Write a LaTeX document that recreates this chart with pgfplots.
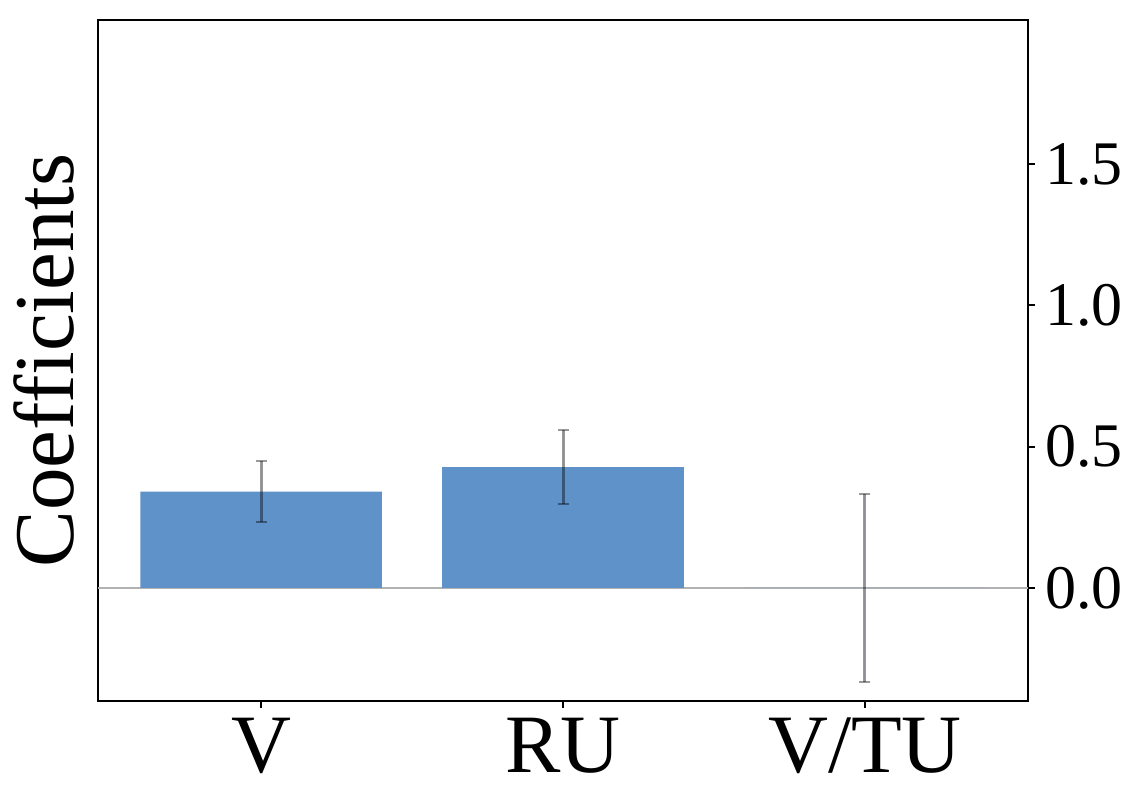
\documentclass[border=0pt]{standalone}
\usepackage{fontspec}
\setmainfont{Liberation Serif}
\usepackage{pgfplots}
\pgfplotsset{compat=1.18}
\definecolor{barblue}{RGB}{94,146,201}
\begin{document}
\begin{tikzpicture}
\begin{axis}[
  width=930pt, height=681pt, scale only axis,
  xmin=-0.54, xmax=2.54, ymin=-0.40, ymax=2.01,
  xtick={0,1,2}, xticklabels={V,RU,V/TU},
  ytick={0,0.5,1,1.5},
  yticklabel pos=right,
  xtick pos=lower, ytick pos=right,
  tick align=outside, major tick length=7pt,
  axis line style={line width=2pt},
  tick style={line width=2pt, black},
  /pgf/number format/assume math mode=true,
  yticklabel style={/pgf/number format/fixed, /pgf/number format/fixed zerofill, /pgf/number format/precision=1, font=\fontsize{62}{62}\selectfont, inner sep=0pt, xshift=10pt},
  xticklabel style={font=\fontsize{83}{83}\selectfont, inner sep=0pt, yshift=-10pt},
  ylabel={Coefficients},
  ylabel style={font=\fontsize{85}{85}\selectfont, at={(axis description cs:-0.025,0.5)}, anchor=south, inner sep=0pt, rotate=0},
  clip=false,
]
\addplot[color=black!30, line width=2.2pt] coordinates {(-0.54,0) (2.54,0)};
\addplot[ybar, bar width=0.8, fill=barblue, draw=none, bar shift=0pt, line width=3pt,
  error bars/.cd, y dir=both, y explicit,
  error bar style={line width=3pt, draw=black, draw opacity=0.4},
  error mark options={line width=2pt, mark size=5.5pt, draw=black, draw opacity=0.4, rotate=90}]
  coordinates {
    (0,0.341) +- (0,0.108)
    (1,0.428) +- (0,0.131)
    (2,0.0) +- (0,0.331)
  };
\path (rel axis cs:-0.1054,-0.1557) rectangle (rel axis cs:1.1172,1.0294);
\end{axis}
\end{tikzpicture}
\end{document}
